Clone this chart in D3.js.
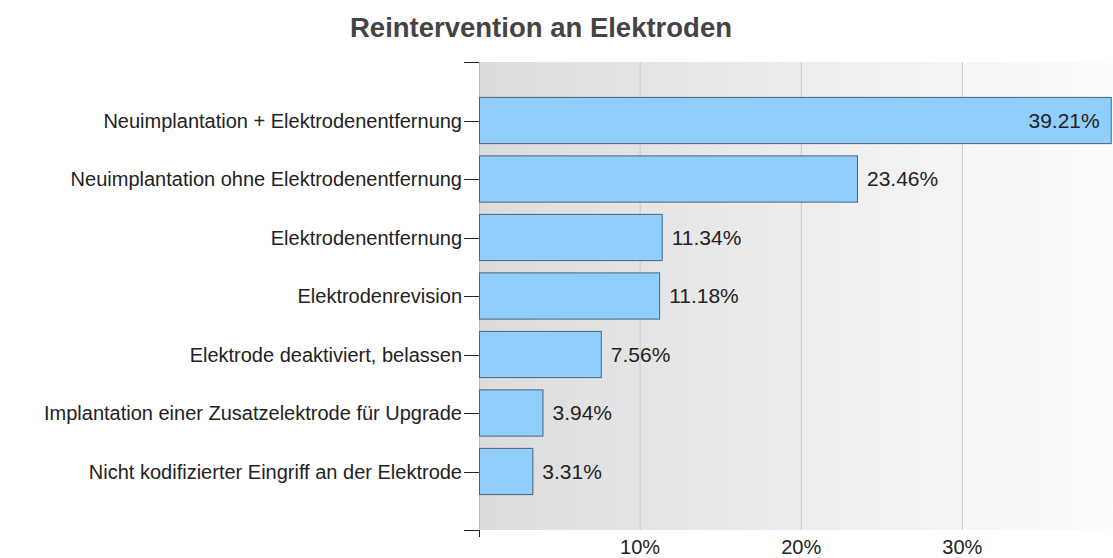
<!DOCTYPE html>
<html>
<head>
<meta charset="utf-8">
<script src="https://cdn.jsdelivr.net/npm/d3@7"></script>
<style>
  html, body { margin: 0; padding: 0; background: #fff; }
  svg { display: block; font-family: "Liberation Sans", Arial, sans-serif; }
</style>
</head>
<body>
<svg id="chart" width="1113" height="558"></svg>
<script>
const categories = [
  "Neuimplantation + Elektrodenentfernung",
  "Neuimplantation ohne Elektrodenentfernung",
  "Elektrodenentfernung",
  "Elektrodenrevision",
  "Elektrode deaktiviert, belassen",
  "Implantation einer Zusatzelektrode für Upgrade",
  "Nicht kodifizierter Eingriff an der Elektrode"
];
const values = [39.21, 23.46, 11.34, 11.18, 7.56, 3.94, 3.31];
const xTicks = [10, 20, 30];
const title = "Reintervention an Elektroden";

const svg = d3.select("#chart");
const W = 1113, H = 558;
const m = { left: 479, right: 0, top: 62, bottom: 28 };
const innerW = W - m.left - m.right;
const innerH = H - m.top - m.bottom;

const x = d3.scaleLinear().domain([0, 39.35]).range([0, innerW]);
// one empty slot above and below the bars
const slots = ["", ...categories, " "];
const y = d3.scalePoint().domain(slots).range([0, innerH]);
const step = y.step();
const barH = step * 0.79;

const defs = svg.append("defs");
const grad = defs.append("linearGradient").attr("id", "bg").attr("x1", 0).attr("x2", 1).attr("y1", 0).attr("y2", 0);
grad.append("stop").attr("offset", "0%").attr("stop-color", "#dcdcdc");
grad.append("stop").attr("offset", "100%").attr("stop-color", "#fdfdfd");

svg.append("text")
  .attr("x", 541).attr("y", 37)
  .attr("text-anchor", "middle")
  .attr("font-size", 27.5).attr("font-weight", "bold")
  .attr("fill", "#444")
  .text(title);

const g = svg.append("g").attr("transform", `translate(${m.left},${m.top})`);

g.append("rect").attr("width", innerW).attr("height", innerH).attr("fill", "url(#bg)");

// vertical gridlines
g.selectAll("line.grid").data(xTicks).join("line")
  .attr("class", "grid")
  .attr("x1", d => x(d)).attr("x2", d => x(d))
  .attr("y1", 0).attr("y2", innerH)
  .attr("stroke", "#c8c8c8").attr("stroke-width", 1);

g.append("line").attr("x1", 0.5).attr("x2", 0.5).attr("y1", 0).attr("y2", innerH)
  .attr("stroke", "#bdbdbd");

// bars
g.selectAll("rect.bar").data(values).join("rect")
  .attr("class", "bar")
  .attr("x", 0.5)
  .attr("y", (d, i) => y(categories[i]) - barH / 2)
  .attr("width", d => x(d))
  .attr("height", barH)
  .attr("fill", "#90cefc")
  .attr("stroke", "#4b6578").attr("stroke-width", 1);

// value labels
g.selectAll("text.val").data(values).join("text")
  .attr("class", "val")
  .attr("font-size", 21).attr("fill", "#222")
  .attr("dy", "0.35em")
  .attr("y", (d, i) => y(categories[i]))
  .attr("x", d => x(d) > innerW - 80 ? x(d) - 11 : x(d) + 10)
  .attr("text-anchor", d => x(d) > innerW - 80 ? "end" : "start")
  .text(d => d.toFixed(2) + "%");

// left axis: ticks at every slot, category labels
const yAxis = g.append("g");
yAxis.selectAll("line").data(slots).join("line")
  .attr("x1", -15).attr("x2", 0)
  .attr("y1", d => Math.round(y(d)) + 0.5).attr("y2", d => Math.round(y(d)) + 0.5)
  .attr("stroke", "#222");
yAxis.selectAll("text").data(categories).join("text")
  .attr("x", -17).attr("y", d => y(d)).attr("dy", "0.35em")
  .attr("text-anchor", "end").attr("font-size", 20).attr("fill", "#222")
  .text(d => d);

// bottom axis
const xAxis = g.append("g").attr("transform", `translate(0,${innerH})`);
xAxis.append("line").attr("x1", 0.5).attr("x2", 0.5).attr("y1", 0).attr("y2", 7).attr("stroke", "#222");
xAxis.selectAll("text").data(xTicks).join("text")
  .attr("x", d => x(d)).attr("y", 24)
  .attr("text-anchor", "middle").attr("font-size", 20).attr("fill", "#222")
  .text(d => d + "%");
</script>
</body>
</html>
